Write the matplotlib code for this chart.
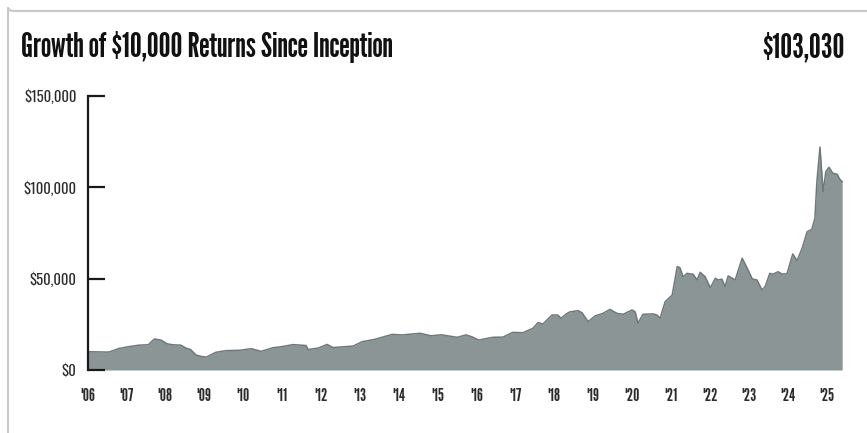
"""Growth of $10,000 area chart."""

import matplotlib

matplotlib.use("Agg")
import matplotlib.pyplot as plt
from matplotlib import font_manager
from matplotlib.patches import FancyBboxPatch
from matplotlib.ticker import FuncFormatter

# decimal year / portfolio value
years = [
    2006.00, 2006.31, 2006.55, 2006.81, 2007.07, 2007.32, 2007.56, 2007.72, 2007.90,
    2008.04, 2008.19, 2008.40, 2008.53, 2008.65, 2008.79, 2008.89, 2009.05, 2009.30,
    2009.56, 2009.92, 2010.21, 2010.46, 2010.77, 2011.00, 2011.28, 2011.62, 2011.67,
    2011.93, 2012.16, 2012.31, 2012.83, 2013.06, 2013.39, 2013.83, 2014.09, 2014.55,
    2014.83, 2015.09, 2015.50, 2015.73, 2015.88, 2016.06, 2016.42, 2016.68, 2016.93,
    2017.19, 2017.45, 2017.58, 2017.71, 2017.94, 2018.09, 2018.17, 2018.33, 2018.40,
    2018.61, 2018.71, 2018.87, 2019.05, 2019.25, 2019.43, 2019.61, 2019.77, 2020.00,
    2020.08, 2020.15, 2020.28, 2020.54, 2020.64, 2020.72, 2020.85, 2021.03, 2021.16,
    2021.23, 2021.31, 2021.41, 2021.57, 2021.67, 2021.75, 2021.88, 2022.01, 2022.14,
    2022.21, 2022.31, 2022.39, 2022.47, 2022.65, 2022.83, 2022.98, 2023.09, 2023.21,
    2023.34, 2023.42, 2023.54, 2023.62, 2023.75, 2023.85, 2023.98, 2024.13, 2024.24,
    2024.37, 2024.50, 2024.62, 2024.70, 2024.75, 2024.83, 2024.91, 2024.98, 2025.06,
    2025.16, 2025.27, 2025.34, 2025.40,
]
values = [
    10000, 9900, 9800, 11800, 12800, 13600, 13800, 17000, 16300,
    14400, 13800, 13600, 12000, 11200, 8200, 7600, 7000, 9700,
    10600, 10800, 11700, 10200, 12200, 12800, 13900, 13400, 11200,
    12000, 14000, 12300, 13100, 15500, 16800, 19500, 19200, 20100,
    18700, 19300, 17900, 19200, 18200, 16400, 17900, 18000, 20600,
    20400, 22800, 25900, 25200, 30100, 30100, 28300, 31000, 31800,
    32500, 31400, 26500, 29600, 31000, 33200, 31000, 30500, 32900,
    31800, 25600, 30500, 30700, 30100, 28300, 37400, 41000, 56600,
    56000, 51000, 52900, 52400, 49300, 53500, 51000, 45000, 50200,
    49300, 49700, 45600, 51500, 49300, 61200, 54800, 49800, 49300,
    43800, 45600, 52900, 52400, 53800, 52600, 52600, 63500, 59900,
    66600, 75700, 77000, 83100, 103000, 122000, 97600, 108600, 111000,
    107700, 107200, 104400, 103030,
]

title = "Growth of $10,000 Returns Since Inception"
end_value = "$103,030"
y_ticks = [0, 50000, 100000, 150000]
x_ticks = list(range(2006, 2026))
x_labels = ["'%02d" % (y % 100) for y in x_ticks]

W, H = 867, 433

names = {f.name for f in font_manager.fontManager.ttflist}


def pick(*fams):
    for f in fams:
        if f in names:
            return [f, "DejaVu Sans"]
    return ["DejaVu Sans"]


HEAD_FONT = pick("League Gothic", "Antonio", "Oswald")
YTICK_FONT = pick("Oswald", "Pathway Gothic One", "League Gothic")
XTICK_FONT = pick("League Gothic", "Oswald")

fig = plt.figure(figsize=(W / 100, H / 100), dpi=100)

# card outline (rounded corner, runs off the right and bottom edges)
card = FancyBboxPatch((8 / W, 1 - 11 / H), 900 / W, -460 / H,
                      boxstyle="round,pad=0,rounding_size=0.008",
                      transform=fig.transFigure, fill=False,
                      edgecolor="#c9c9c9", linewidth=1.6)
fig.patches.append(card)

fig.text(21 / W, 1 - 57 / H, title, fontsize=24, family=HEAD_FONT,
         color="#111111", va="baseline", ha="left")
fig.text(845 / W, 1 - 57 / H, end_value, fontsize=24, family=HEAD_FONT,
         color="#111111", va="baseline", ha="right")

# 2006 sits at x=87.5px, one year = 38.9px; $0 at y=370px, $150k at y=96px
x0, px_year = 87.5, 38.9
x_lo, x_hi = 2006.0, 2006.0 + (850 - x0) / px_year
ax = fig.add_axes([x0 / W, (H - 370) / H, (850 - x0) / W, 274 / H])

ax.fill_between(years, values, 0, color="#8b9595", linewidth=0)
ax.plot(years, values, color="#6f7979", linewidth=1.1)

ax.set_xlim(x_lo, x_hi)
ax.set_ylim(0, 150000)

for side in ["top", "right", "bottom"]:
    ax.spines[side].set_visible(False)
ax.spines["left"].set_color("#1a1a1a")
ax.spines["left"].set_linewidth(1.6)

ax.set_yticks(y_ticks)
ax.yaxis.set_major_formatter(FuncFormatter(lambda v, _: "${:,.0f}".format(v)))
ax.tick_params(axis="y", direction="in", length=12, width=1.6, color="#1a1a1a",
               pad=8, labelsize=10.5, labelcolor="#2b2b2b")
ax.set_xticks(x_ticks)
ax.set_xticklabels(x_labels)
ax.tick_params(axis="x", length=0, pad=13, labelsize=12.5, labelcolor="#2b2b2b")

for lab in ax.get_yticklabels():
    lab.set_family(YTICK_FONT)
for lab in ax.get_xticklabels():
    lab.set_family(XTICK_FONT)

fig.savefig("out.png", dpi=100)
